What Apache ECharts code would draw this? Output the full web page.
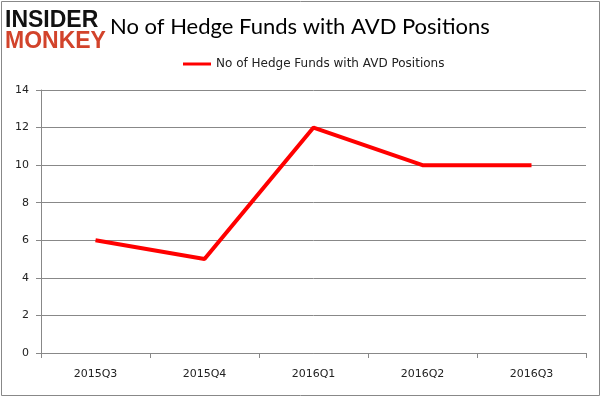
<!DOCTYPE html>
<html><head><meta charset="utf-8">
<script src="https://cdn.jsdelivr.net/npm/echarts@6/dist/echarts.min.js"></script>
<style>html,body{margin:0;padding:0;background:#fff}#c{width:602px;height:398px}</style>
</head><body><div id="c"></div>
<script>
const categories = ["2015Q3","2015Q4","2016Q1","2016Q2","2016Q3"];
const seriesName = "No of Hedge Funds with AVD Positions";
const values = [6,5,12,10,10];
const yTicks = {min:0, max:14, interval:2};
const chart = echarts.init(document.getElementById('c'));
chart.setOption({
  animation:false,
  backgroundColor:'#fff',
  title:{text:"No of Hedge Funds with AVD Positions", left:105, top:11,
    textStyle:{fontFamily:'Lato', fontSize:22, fontWeight:'normal', color:'#000'}},
  legend:{top:53, left:178, icon:'rect', itemWidth:28, itemHeight:3, itemGap:5,
    textStyle:{fontFamily:'DejaVu Sans', fontSize:12, color:'#222'}, data:[seriesName]},
  grid:{left:41, right:16, top:90, bottom:45, containLabel:false},
  xAxis:{type:'category', data:categories, boundaryGap:true,
    axisLine:{lineStyle:{color:'#888', width:1}},
    axisTick:{show:true, length:5, interval:0, lineStyle:{color:'#888'}},
    axisLabel:{margin:16, fontFamily:'DejaVu Sans', fontSize:11, color:'#222'}},
  yAxis:{type:'value', min:yTicks.min, max:yTicks.max, interval:yTicks.interval,
    axisLine:{show:true, lineStyle:{color:'#888', width:1}},
    axisTick:{show:true, length:5, lineStyle:{color:'#888'}},
    splitLine:{show:true, lineStyle:{color:'#888', width:1}},
    axisLabel:{margin:12, fontFamily:'DejaVu Sans', fontSize:11, color:'#222'}},
  series:[{name:seriesName, type:'line', data:values, symbol:'none', showSymbol:false,
    lineStyle:{color:'#ff0000', width:4}, itemStyle:{color:'#ff0000'}}],
  graphic:[
    {type:'rect', shape:{x:1.5, y:1.5, width:598, height:394}, style:{fill:'none', stroke:'#888', lineWidth:1}, silent:true},
    {type:'text', left:5, top:9, style:{text:'INSIDER', font:'bold 23px "Liberation Sans"', fill:'#111'}},
    {type:'text', left:5, top:30, style:{text:'MONKEY', font:'bold 23px "Liberation Sans"', fill:'#d2432b'}}
  ]
});
</script></body></html>
